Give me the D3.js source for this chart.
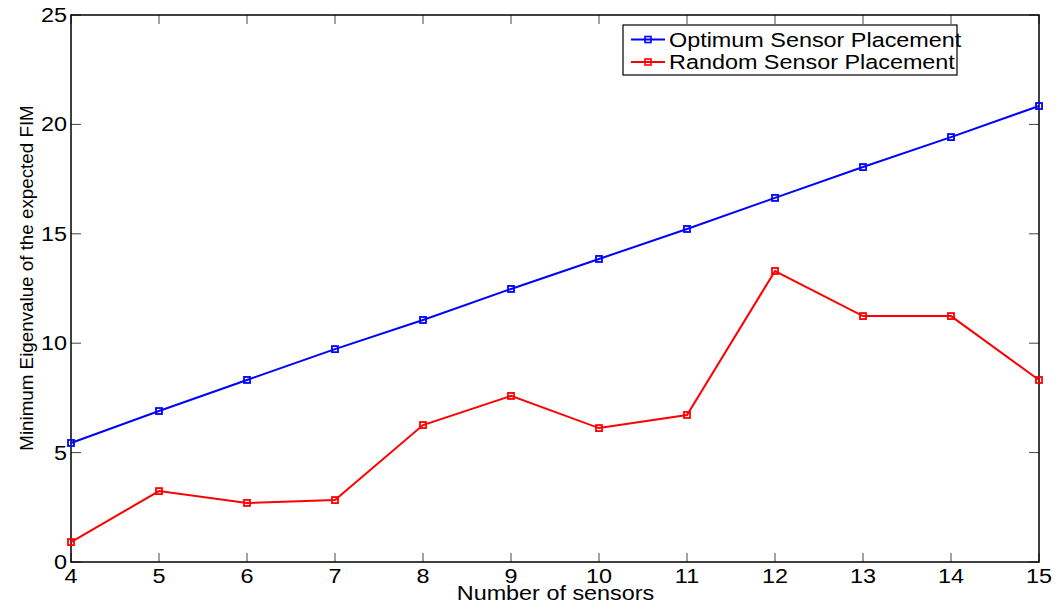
<!DOCTYPE html>
<html><head><meta charset="utf-8">
<script src="https://cdn.jsdelivr.net/npm/d3@7"></script>
<style>body{margin:0;background:#fff}svg{display:block}text{font-family:"Liberation Sans",Arial,sans-serif;fill:#000}</style>
</head><body><svg id="c" width="1062" height="609"></svg>
<script>
const sensors = [4,5,6,7,8,9,10,11,12,13,14,15];
const optimum = [5.44,6.90,8.32,9.73,11.06,12.48,13.85,15.22,16.64,18.05,19.42,20.84];
const random  = [0.91,3.24,2.70,2.83,6.26,7.59,6.12,6.72,13.30,11.24,11.24,8.32];
const yTicks = [0,5,10,15,20,25];
const seriesNames = ["Optimum Sensor Placement","Random Sensor Placement"];
const colors = ["#0000ff","#ff0000"];

const svg = d3.select("#c");
const L=71,R=1039,T=15,B=562, SX=1.2, FS=19.5;
const x = d3.scaleLinear().domain([4,15]).range([L,R]);
const y = d3.scaleLinear().domain([0,25]).range([B,T]);

function txt(g,xp,yp,s,anchor){
  return g.append("text").attr("transform",`translate(${xp},${yp}) scale(${SX},1)`)
    .attr("text-anchor",anchor).attr("font-size",FS).text(s);
}

// ticks inward on all four sides
const tk = svg.append("g").attr("stroke","#444").attr("stroke-width",1);
sensors.forEach(v=>{
  tk.append("line").attr("x1",x(v)).attr("x2",x(v)).attr("y1",B).attr("y2",B-9);
  tk.append("line").attr("x1",x(v)).attr("x2",x(v)).attr("y1",T).attr("y2",T+9);
});
yTicks.forEach(v=>{
  tk.append("line").attr("x1",L).attr("x2",L+10).attr("y1",y(v)).attr("y2",y(v));
  tk.append("line").attr("x1",R).attr("x2",R-10).attr("y1",y(v)).attr("y2",y(v));
});
// box
svg.append("rect").attr("x",L).attr("y",T).attr("width",R-L).attr("height",B-T)
  .attr("fill","none").attr("stroke","#000").attr("stroke-width",1.5);

// tick labels
const lab = svg.append("g");
sensors.forEach(v=>txt(lab,x(v),583,d3.format("d")(v),"middle"));
yTicks.forEach(v=>txt(lab,67,y(v)+7,d3.format("d")(v),"end"));

// axis titles
txt(svg,555.5,600,"Number of sensors","middle");
svg.append("text").attr("transform","translate(33,278) rotate(-90)")
  .attr("text-anchor","middle").attr("font-size",18.8).text("Minimum Eigenvalue of the expected FIM");

// series
const line = d3.line().x((d,i)=>x(sensors[i])).y(d=>y(d));
[optimum,random].forEach((vals,k)=>{
  svg.append("path").attr("d",line(vals)).attr("fill","none")
    .attr("stroke",colors[k]).attr("stroke-width",2);
  svg.append("g").selectAll("rect").data(vals).join("rect")
    .attr("x",(d,i)=>x(sensors[i])-3).attr("y",d=>y(d)-3)
    .attr("width",6).attr("height",6).attr("fill","none")
    .attr("stroke",colors[k]).attr("stroke-width",1.8);
});

// legend
const lg = svg.append("g");
lg.append("rect").attr("x",623).attr("y",25).attr("width",334).attr("height",50)
  .attr("fill","#fff").attr("stroke","#000").attr("stroke-width",1.2);
seriesNames.forEach((n,k)=>{
  const yy = [39.5,62][k];
  lg.append("line").attr("x1",631).attr("x2",665).attr("y1",yy).attr("y2",yy)
    .attr("stroke",colors[k]).attr("stroke-width",2);
  lg.append("rect").attr("x",648-3).attr("y",yy-3).attr("width",6).attr("height",6)
    .attr("fill","none").attr("stroke",colors[k]).attr("stroke-width",1.6);
  txt(lg,669,yy+7,n,"start");
});
</script></body></html>
